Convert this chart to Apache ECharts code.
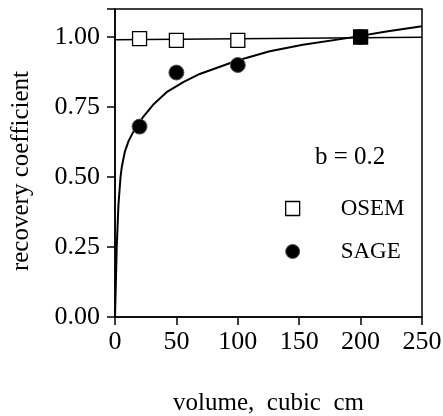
<!DOCTYPE html>
<html>
<head>
<meta charset="utf-8">
<script src="https://cdn.jsdelivr.net/npm/echarts@6/dist/echarts.min.js"></script>
<style>
  html, body { margin: 0; padding: 0; background: #fff; }
  #chart { width: 443px; height: 416px; }
</style>
</head>
<body>
<div id="chart"></div>
<script>
// measured points, volume in cubic cm
const osemPoints = [[20, 0.994], [50, 0.988], [100, 0.988], [200, 1.0]];
const sagePoints = [[20, 0.68], [50, 0.873], [100, 0.90], [200, 1.0]];
// fitted lines
const osemFit = [[0, 0.99], [250, 0.999]];
const sageFit = [
  [0, 0], [0.7, 0.12], [1.4, 0.25], [2.8, 0.40], [4.5, 0.50], [5.5, 0.535],
  [8, 0.59], [11, 0.628], [15, 0.662], [23, 0.715], [31, 0.758], [42, 0.803],
  [56, 0.84], [69, 0.868], [99, 0.915], [126, 0.949], [153, 0.972],
  [189, 0.996], [221, 1.02], [250, 1.038]
];
const xTicks = [0, 50, 100, 150, 200, 250];
const yTicks = [0, 0.25, 0.5, 0.75, 1.0];
const fitLabel = 'b = 0.2';

const FONT = '"Liberation Serif", "Times New Roman", serif';

const chart = echarts.init(document.getElementById('chart'));

// the OSEM square at 200 sits on a SAGE dot, so it shows filled
const overlapped = (p) => sagePoints.some(q => q[0] === p[0] && Math.abs(q[1] - p[1]) < 0.02);

chart.setOption({
  animation: false,
  backgroundColor: '#fff',
  grid: {
    left: 115, right: 21, top: 9, bottom: 99,
    outerBoundsMode: 'none',
    show: true, borderColor: '#000', borderWidth: 1.5
  },
  title: {
    text: fitLabel,
    left: 310, top: 140,
    textStyle: { fontFamily: FONT, fontSize: 25, fontWeight: 'normal', color: '#000' }
  },
  legend: {
    orient: 'vertical',
    left: 280, top: 192,
    itemWidth: 14, itemHeight: 14, itemGap: 20,
    textStyle: { fontFamily: FONT, fontSize: 23, color: '#000', padding: [0, 0, 0, 36] },
    data: [
      { name: 'OSEM', icon: 'rect', itemStyle: { color: '#fff', borderColor: '#000', borderWidth: 1.3 } },
      { name: 'SAGE', icon: 'circle', itemStyle: { color: '#000', borderColor: '#555', borderWidth: 1 } }
    ]
  },
  xAxis: {
    type: 'value', min: 0, max: 250, interval: 50,
    name: 'volume,  cubic  cm',
    nameLocation: 'middle', nameGap: 74,
    nameTextStyle: { fontFamily: FONT, fontSize: 25, color: '#000' },
    axisLine: { show: true, lineStyle: { color: '#000', width: 1.5 } },
    axisTick: { show: true, inside: false, length: 8, lineStyle: { color: '#000', width: 1.5 } },
    axisLabel: {
      margin: 12, fontFamily: FONT, fontSize: 26, color: '#000',
      formatter: v => xTicks.includes(v) ? String(v) : ''
    },
    splitLine: { show: false }
  },
  yAxis: {
    type: 'value', min: 0, max: 1.1, interval: 0.25,
    name: 'recovery coefficient',
    nameLocation: 'middle', nameGap: 81,
    nameTextStyle: { fontFamily: FONT, fontSize: 25, color: '#000', padding: [0, 16, 0, 0] },
    axisLine: { show: true, lineStyle: { color: '#000', width: 1.5 } },
    axisTick: { show: true, inside: false, length: 8, lineStyle: { color: '#000', width: 1.5 } },
    axisLabel: {
      margin: 15, fontFamily: FONT, fontSize: 26, color: '#000',
      formatter: v => yTicks.some(t => Math.abs(t - v) < 1e-6) ? v.toFixed(2) : ''
    },
    splitLine: { show: false }
  },
  series: [
    {
      name: 'OSEM fit', type: 'line', data: osemFit, showSymbol: false, silent: true,
      lineStyle: { color: '#000', width: 1.5 }, z: 2
    },
    {
      name: 'SAGE fit', type: 'line', data: sageFit, showSymbol: false, silent: true,
      smooth: false,
      lineStyle: { color: '#000', width: 2, join: 'round' }, z: 2
    },
    {
      name: 'SAGE', type: 'scatter', data: sagePoints, symbol: 'circle', symbolSize: 15,
      itemStyle: { color: '#000', borderColor: '#555', borderWidth: 1, opacity: 1 }, z: 3
    },
    {
      name: 'OSEM', type: 'scatter', data: osemPoints, symbol: 'rect', symbolSize: 14,
      itemStyle: {
        color: p => overlapped(p.value) ? '#000' : '#fff',
        borderColor: '#000', borderWidth: 1.3, opacity: 1
      }, z: 4
    }
  ]
});
</script>
</body>
</html>
